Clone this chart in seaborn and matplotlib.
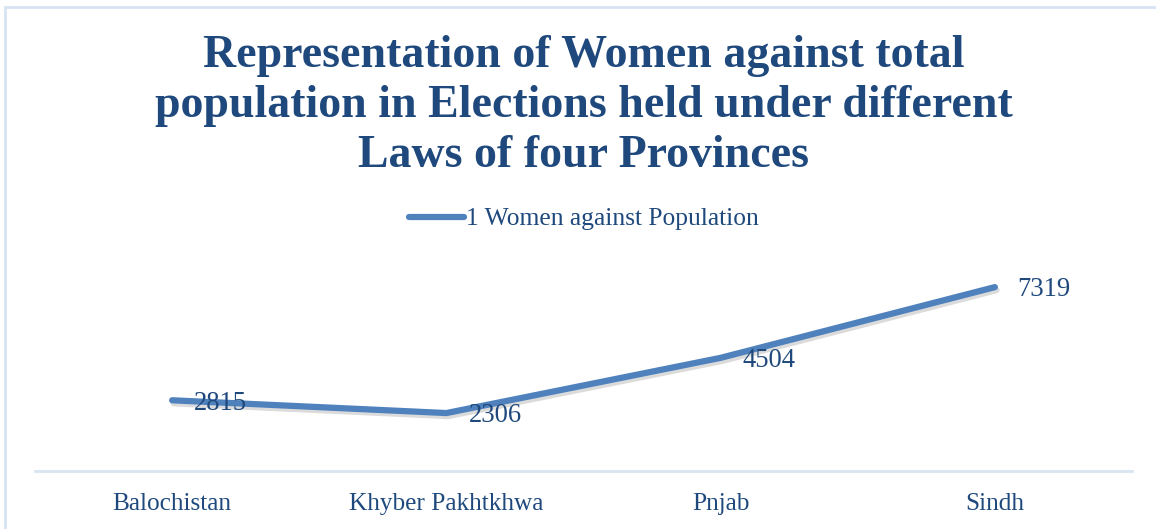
import matplotlib
matplotlib.use("Agg")
import matplotlib.pyplot as plt
import matplotlib.patheffects as pe
from matplotlib.lines import Line2D
from matplotlib.patches import Rectangle
import pandas as pd
import seaborn as sns

# Data
provinces = ["Balochistan", "Khyber Pakhtkhwa", "Pnjab", "Sindh"]
women_vs_population = [2815, 2306, 4504, 7319]
series_name = "1 Women against Population"
title_lines = [
    "Representation of Women against total",
    "population in Elections held under different",
    "Laws of four Provinces",
]

sns.set_theme(style="white")
plt.rcParams["font.family"] = ["Liberation Serif", "DejaVu Serif"]

TEXT = "#1F497D"
LINE = "#4F81BD"

W, H = 1156, 529
fig = plt.figure(figsize=(W / 100, H / 100), dpi=100)
fig.patch.set_facecolor("white")

# Chart frame
fig.add_artist(Rectangle((5 / W, -0.05), 1.2, (H - 7) / H + 0.05,
                         transform=fig.transFigure, fill=False,
                         edgecolor="#D6E3F3", linewidth=2))

ax = fig.add_axes([35 / W, 58 / H, (1132 - 35) / W, (471 - 270) / H])

df = pd.DataFrame({"Province": provinces, "Value": women_vs_population})
df["pos"] = range(len(df))

sns.lineplot(data=df, x="pos", y="Value", ax=ax, color=LINE, linewidth=4.5,
             sort=False, solid_capstyle="round", solid_joinstyle="round",
             legend=False)
for ln in ax.lines:
    ln.set_path_effects([
        pe.SimpleLineShadow(offset=(1.2, -2.2), shadow_color="#000000", alpha=0.14),
        pe.Normal(),
    ])

ax.set_xlim(-0.5, len(provinces) - 0.5)
ax.set_ylim(0, 8000)
ax.set_xticks(df["pos"])
ax.set_xticklabels(provinces, fontsize=18.2, color=TEXT)
ax.tick_params(axis="x", length=0, pad=16)
ax.set_yticks([])
ax.set_xlabel("")
ax.set_ylabel("")
for s in ["top", "left", "right"]:
    ax.spines[s].set_visible(False)
ax.spines["bottom"].set_color("#D9E4F2")
ax.spines["bottom"].set_linewidth(2)
ax.patch.set_alpha(0)

# Data labels to the right of each point
for x, v in zip(df["pos"], df["Value"]):
    ax.annotate(f"{v}", (x, v), xytext=(16, -2), textcoords="offset points",
                ha="left", va="center", fontsize=19.2, color=TEXT)

# Title
for i, line in enumerate(title_lines):
    fig.text(584 / W, 1 - (67 + 50 * i) / H, line, ha="center", va="baseline",
             fontsize=33, fontweight="bold", color=TEXT)

# Legend
handle = Line2D([], [], color=LINE, linewidth=4.5, solid_capstyle="round")
fig.legend([handle], [series_name], loc="center", bbox_to_anchor=(584 / W, 1 - 219 / H),
           frameon=False, fontsize=18.4, labelcolor=TEXT, handlelength=2.15,
           handletextpad=0.1)

fig.savefig("out.png", dpi=100)
